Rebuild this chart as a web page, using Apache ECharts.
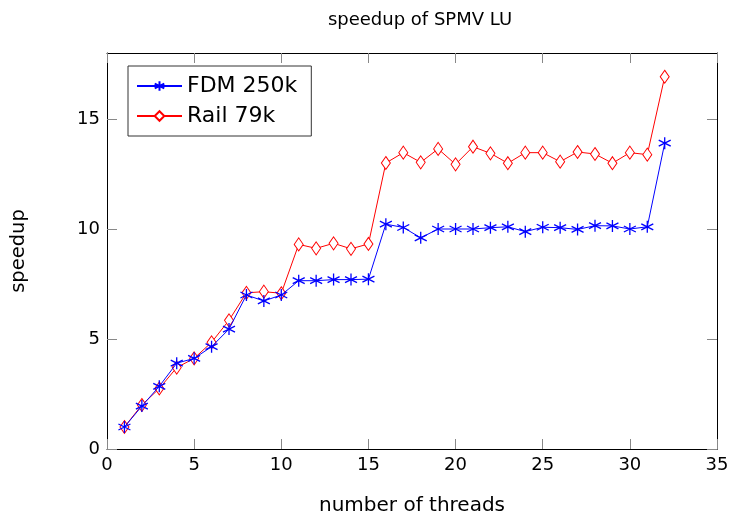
<!DOCTYPE html>
<html><head><meta charset="utf-8">
<script src="https://cdn.jsdelivr.net/npm/echarts@6/dist/echarts.min.js"></script>
<style>html,body{margin:0;padding:0;background:#fff}#c{width:736px;height:516px}</style>
</head><body><div id="c"></div>
<script>
const threads = [1,2,3,4,5,6,7,8,9,10,11,12,13,14,15,16,17,18,19,20,21,22,23,24,25,26,27,28,29,30,31,32];
const fdm250k = [1.0,1.95,2.85,3.9,4.12,4.65,5.45,7.0,6.73,7.0,7.65,7.65,7.7,7.7,7.72,10.22,10.07,9.6,10.0,10.0,10.0,10.06,10.1,9.88,10.08,10.06,9.98,10.15,10.14,10.0,10.1,13.9];
const rail79k = [1.0,2.0,2.75,3.7,4.12,4.85,5.85,7.1,7.15,7.08,9.3,9.12,9.35,9.1,9.32,13.0,13.47,13.03,13.64,12.94,13.74,13.44,12.99,13.47,13.47,13.06,13.5,13.41,12.99,13.47,13.38,16.92];
const xTicks = [0,5,10,15,20,25,30,35];
const yTicks = [0,5,10,15];

const FONT = 'DejaVu Sans';
const star = 'path://M0,-1L0,1M-0.866,-0.5L0.866,0.5M-0.866,0.5L0.866,-0.5';
const chart = echarts.init(document.getElementById('c'), null, {renderer:'canvas'});
const tickStyle = {show:true, inside:true, length:10, lineStyle:{color:'#888', width:1}};
chart.setOption({
  animation:false,
  textStyle:{fontFamily:FONT},
  title:{text:'speedup of SPMV LU', left:415, top:6, textAlign:'center',
    textStyle:{fontFamily:FONT, fontSize:18, fontWeight:'normal', color:'#000'}},
  grid:{left:107, right:19, top:53, bottom:67, containLabel:false, outerBoundsMode:'none'},
  legend:{
    left:128, top:66, orient:'vertical', itemGap:8, itemWidth:45, itemHeight:12,
    padding:[9,14,9,8], borderColor:'#333', borderWidth:1, backgroundColor:'#fff',
    textStyle:{fontFamily:FONT, fontSize:22, color:'#000'},
    data:['FDM 250k','Rail 79k']
  },
  xAxis:[{
    type:'value', min:0, max:35, interval:5,
    name:'number of threads', nameLocation:'middle', nameGap:47,
    nameTextStyle:{fontFamily:FONT, fontSize:20, color:'#000'},
    axisLine:{show:true, onZero:false, lineStyle:{color:'#000', width:1}},
    axisTick:tickStyle,
    axisLabel:{fontFamily:FONT, fontSize:18, color:'#000', margin:7,
      customValues: xTicks},
    splitLine:{show:false}
  },{
    type:'value', position:'top', min:0, max:35, interval:5,
    axisLine:{show:true, onZero:false, lineStyle:{color:'#000', width:1}},
    axisTick:tickStyle, axisLabel:{show:false}, splitLine:{show:false}
  }],
  yAxis:[{
    type:'value', min:0, max:18, interval:5,
    name:'speedup', nameLocation:'middle', nameGap:78, nameRotate:90,
    nameTextStyle:{fontFamily:FONT, fontSize:19.5, color:'#000'},
    axisLine:{show:true, onZero:false, lineStyle:{color:'#000', width:1}},
    axisTick:Object.assign({}, tickStyle, {customValues: yTicks}),
    axisLabel:{fontFamily:FONT, fontSize:18, color:'#000', margin:7, customValues: yTicks},
    splitLine:{show:false}
  },{
    type:'value', position:'right', min:0, max:18, interval:5,
    axisLine:{show:true, onZero:false, lineStyle:{color:'#000', width:1}},
    axisTick:Object.assign({}, tickStyle, {customValues: yTicks}),
    axisLabel:{show:false}, splitLine:{show:false}
  }],
  series:[{
    name:'FDM 250k', type:'line', xAxisIndex:0, yAxisIndex:0,
    data: threads.map((t,i)=>[t, fdm250k[i]]),
    symbol: star, symbolSize:12, showAllSymbol:true,
    lineStyle:{color:'#0000ff', width:1},
    itemStyle:{color:'#0000ff', borderColor:'#0000ff', borderWidth:1.3},
    z:3
  },{
    name:'Rail 79k', type:'line', xAxisIndex:0, yAxisIndex:0,
    data: threads.map((t,i)=>[t, rail79k[i]]),
    symbol:'diamond', symbolSize:[9,13], showAllSymbol:true,
    lineStyle:{color:'#ff0000', width:1},
    itemStyle:{color:'#ffffff', borderColor:'#ff0000', borderWidth:1},
    z:2
  }]
});
</script></body></html>
